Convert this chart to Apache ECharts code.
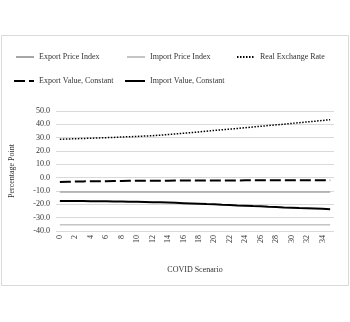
<!DOCTYPE html>
<html>
<head>
<meta charset="utf-8">
<script src="https://cdn.jsdelivr.net/npm/echarts@6/dist/echarts.min.js"></script>
<style>html,body{margin:0;padding:0;background:#fff}#c{width:350px;height:322px}</style>
</head>
<body>
<div id="c"></div>
<script>
const categories = ['0','1','2','3','4','5','6','7','8','9','10','11','12','13','14','15','16','17','18','19','20','21','22','23','24','25','26','27','28','29','30','31','32','33','34','35'];
const exportPriceIndex = [-10.8,-10.8,-10.8,-10.8,-10.8,-10.8,-10.8,-10.8,-10.8,-10.8,-10.8,-10.8,-10.8,-10.8,-10.8,-10.8,-10.8,-10.8,-10.8,-10.8,-10.8,-10.8,-10.8,-10.8,-10.8,-10.8,-10.8,-10.8,-10.8,-10.8,-10.8,-10.8,-10.8,-10.8,-10.8,-10.8];
const importPriceIndex = [-35.3,-35.3,-35.3,-35.3,-35.3,-35.3,-35.3,-35.3,-35.3,-35.3,-35.3,-35.3,-35.3,-35.3,-35.3,-35.3,-35.3,-35.3,-35.3,-35.3,-35.3,-35.3,-35.3,-35.3,-35.3,-35.3,-35.3,-35.3,-35.3,-35.3,-35.3,-35.3,-35.3,-35.3,-35.3,-35.3];
const realExchangeRate = [28.8,29.0,29.2,29.4,29.6,29.8,30.0,30.2,30.5,30.7,30.9,31.2,31.5,31.9,32.3,32.8,33.3,33.8,34.3,34.9,35.4,35.9,36.4,36.9,37.5,38.0,38.5,39.1,39.6,40.1,40.7,41.2,41.8,42.3,42.9,43.5];
const exportValueConstant = [-3.3,-3.1,-2.9,-2.8,-2.7,-2.6,-2.6,-2.5,-2.5,-2.4,-2.4,-2.4,-2.3,-2.3,-2.3,-2.2,-2.2,-2.2,-2.2,-2.1,-2.1,-2.1,-2.1,-2.1,-2.0,-2.0,-2.0,-2.0,-2.0,-2.0,-2.0,-1.9,-1.9,-1.9,-1.9,-1.9];
const importValueConstant = [-17.5,-17.5,-17.5,-17.5,-17.6,-17.6,-17.7,-17.8,-17.9,-18.0,-18.1,-18.2,-18.4,-18.5,-18.7,-18.9,-19.1,-19.3,-19.5,-19.8,-20.0,-20.3,-20.5,-20.8,-21.0,-21.3,-21.5,-21.8,-22.0,-22.3,-22.5,-22.8,-23.0,-23.2,-23.4,-23.6];

const FONT = 'Liberation Serif';
const TXT = '#333333';
const chart = echarts.init(document.getElementById('c'), null, {renderer:'canvas'});
const legendText = {fontFamily: FONT, fontSize: 8, color: TXT};
function lg(name, left, top, w){
  return {data:[name], left:left, top:top, itemWidth:w, itemHeight:8, itemGap:0, padding:0,
    itemStyle:{opacity:0, borderWidth:0}, textStyle:legendText, selectedMode:false};
}
chart.setOption({
  animation:false,
  backgroundColor:'#fff',
  graphic:[{type:'rect', shape:{x:1.5, y:35.5, width:347, height:250}, style:{fill:'none', stroke:'#d9d9d9', lineWidth:1}}],
  legend:[
    lg('Export Price Index', 15, 53, 18),
    lg('Import Price Index', 126, 53, 18),
    lg('Real Exchange Rate', 236, 53, 18),
    lg('Export Value, Constant', 13, 77, 20),
    lg('Import Value, Constant', 124, 77, 20)
  ],
  grid:{left:56, right:16, top:111, bottom:91, containLabel:false},
  xAxis:{
    type:'category', data:categories, boundaryGap:true,
    name:'COVID Scenario', nameLocation:'middle', nameGap:35,
    nameTextStyle:{fontFamily:FONT, fontSize:8, color:TXT},
    axisLine:{show:false}, axisTick:{show:false},
    axisLabel:{interval:1, rotate:90, fontFamily:FONT, fontSize:8, color:TXT, margin:4}
  },
  yAxis:{
    type:'value', min:-40, max:50, interval:10,
    name:'Percentage Point', nameLocation:'middle', nameGap:40,
    nameTextStyle:{fontFamily:FONT, fontSize:8, color:TXT},
    axisLine:{show:false}, axisTick:{show:false},
    axisLabel:{formatter:v=>v.toFixed(1), fontFamily:FONT, fontSize:8, color:TXT, margin:6},
    splitLine:{lineStyle:{color:'#d9d9d9', width:1}}
  },
  series:[
    {name:'Export Price Index', type:'line', data:exportPriceIndex, symbol:'none', lineStyle:{color:'#a6a6a6', width:1.5}, itemStyle:{color:'#a6a6a6'}},
    {name:'Import Price Index', type:'line', data:importPriceIndex, symbol:'none', lineStyle:{color:'#c4c4c4', width:1.5}, itemStyle:{color:'#c4c4c4'}},
    {name:'Real Exchange Rate', type:'line', data:realExchangeRate, symbol:'none', lineStyle:{color:'#000', width:1.5, type:[1.5,1.5]}, itemStyle:{color:'#000'}},
    {name:'Export Value, Constant', type:'line', data:exportValueConstant, symbol:'none', lineStyle:{color:'#000', width:2, type:[11,4]}, itemStyle:{color:'#000'}},
    {name:'Import Value, Constant', type:'line', data:importValueConstant, symbol:'none', lineStyle:{color:'#000', width:2}, itemStyle:{color:'#000'}}
  ]
});
</script>
</body>
</html>
